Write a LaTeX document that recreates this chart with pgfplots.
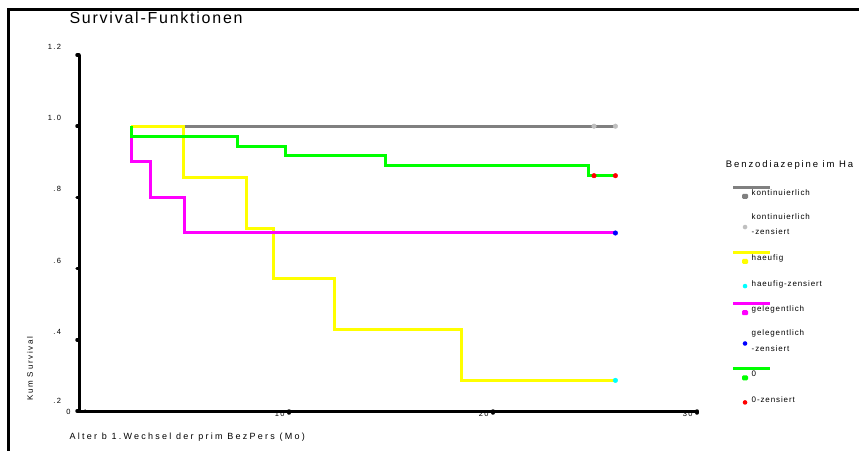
\documentclass[border=0pt]{standalone}
\usepackage{fontspec}
\setmainfont{Liberation Sans}
\newfontfamily\titlefont[LetterSpace=11]{Liberation Sans}
\newfontfamily\tickfont[LetterSpace=18]{Liberation Sans}
\newfontfamily\labfont[LetterSpace=22]{Liberation Sans}
\newfontfamily\xlabfont[LetterSpace=25]{Liberation Sans}
\newfontfamily\legfont[LetterSpace=11]{Liberation Sans}
\newfontfamily\legtfont[LetterSpace=20]{Liberation Sans}
\usepackage{pgfplots}
\pgfplotsset{compat=1.18}
\definecolor{kgray}{RGB}{128,128,128}
\definecolor{kgrayc}{RGB}{192,192,192}
\definecolor{kyellow}{RGB}{255,255,0}
\definecolor{kcyan}{RGB}{0,255,255}
\definecolor{kmag}{RGB}{255,0,255}
\definecolor{kblue}{RGB}{0,0,255}
\definecolor{kgreen}{RGB}{0,255,0}
\definecolor{kred}{RGB}{255,0,0}
\newcommand{\lineleg}[1]{\addlegendimage{legend image code/.code={%
   \path[draw=none, fill=none] (0pt,-6pt) rectangle (16pt,8pt);
   \draw[#1, overlay, line width=2.8pt] (0pt,6pt) -- (37pt,6pt);
   \fill[#1, draw=none, rounded corners=1.2pt] (9pt,-5.5pt) rectangle (15pt,-0.5pt);}}}
\newcommand{\censleg}[1]{\addlegendimage{legend image code/.code={%
   \path[draw=none, fill=none] (0pt,-6pt) rectangle (16pt,8pt);
   \fill[#1, draw=none] (12pt,-2pt) circle (2.3pt);}}}
\begin{document}
\begin{tikzpicture}[x=1pt,y=1pt]
\useasboundingbox (0,0) rectangle (859,450);
\fill[white] (0,0) rectangle (859,450);
\draw[line width=3pt] (8,-2) -- (8,440) -- (861,440);
\begin{axis}[
  at={(79pt,39pt)}, anchor=south west,
  scale only axis, width=618pt, height=356pt,
  xmin=-0.3, xmax=30, ymin=0.2, ymax=1.2,
  clip=false,
  axis lines=left,
  axis line style={-, line width=3pt, black},
  tick align=outside,
  major tick length=2pt,
  tick style={line width=3.5pt, line cap=round, black},
  xtick={10,20,30}, xticklabels={10,20,30},
  extra x ticks={0}, extra x tick labels={0},
  extra x tick style={major tick length=0pt, xticklabel style={xshift=-10pt}},
  ytick={0.2,0.4,0.6,0.8,1.0,1.2},
  yticklabels={\raisebox{4pt}{.2},.4,.6,.8,1.0,1.2},
  ticklabel style={font=\tickfont\fontsize{7.5}{9}\selectfont},
  yticklabel style={anchor=east, xshift=-12.5pt, yshift=8pt},
  xticklabel style={anchor=north east, xshift=-1pt, yshift=5.5pt},
  title={Survival-Funktionen},
  title style={at={(axis description cs:-0.021,1.087)}, anchor=west, font=\titlefont\fontsize{16}{19}\selectfont},
  xlabel={Alter b 1.Wechsel der prim BezPers (Mo)},
  xlabel style={at={(axis description cs:-0.021,-0.073)}, anchor=west, font=\xlabfont\fontsize{9}{11}\selectfont},
  ylabel={Kum Survival},
  ylabel style={at={(axis description cs:-0.0793,0.119)}, anchor=center, font=\labfont\fontsize{8}{10}\selectfont},
  legend style={at={(axis description cs:1.0583,0.634)}, anchor=north west, draw=none, fill=none,
    inner sep=0pt, outer sep=0pt, row sep=11.3pt, column sep=0pt,
    font=\legfont\fontsize{8}{15.5}\selectfont, nodes={align=left, inner sep=2.7pt}},
  legend cell align=left,
]
\addplot[const plot, color=kgray, line width=3pt, forget plot] coordinates {(2.25,1.0) (26.0,1.0)};
\addplot[const plot, color=kyellow, line width=3pt, forget plot] coordinates {(2.25,1.0) (4.82,0.857) (7.93,0.714) (9.26,0.571) (12.25,0.429) (18.43,0.286) (26.0,0.286)};
\addplot[const plot, color=kmag, line width=3pt, forget plot] coordinates {(2.25,1.0) (2.25,0.9) (3.19,0.8) (4.85,0.7) (26.0,0.7)};
\addplot[const plot, color=kgreen, line width=3pt, forget plot] coordinates {(2.25,1.0) (2.25,0.972) (7.48,0.944) (9.8,0.917) (14.74,0.889) (24.7,0.861) (26.0,0.861)};
\addplot[only marks, mark=*, mark size=2.3pt, color=kgrayc, forget plot] coordinates {(24.95,1.0) (26.0,1.0)};
\addplot[only marks, mark=*, mark size=2.3pt, color=kcyan, forget plot] coordinates {(26.0,0.286)};
\addplot[only marks, mark=*, mark size=2.3pt, color=kblue, forget plot] coordinates {(26.0,0.7)};
\addplot[only marks, mark=*, mark size=2.3pt, color=kred, forget plot] coordinates {(24.95,0.861) (26.0,0.861)};
\lineleg{kgray}\addlegendentry{kontinuierlich}
\censleg{kgrayc}\addlegendentry{kontinuierlich\\-zensiert}
\lineleg{kyellow}\addlegendentry{haeufig}
\censleg{kcyan}\addlegendentry{haeufig-zensiert}
\lineleg{kmag}\addlegendentry{gelegentlich}
\censleg{kblue}\addlegendentry{gelegentlich\\-zensiert}
\lineleg{kgreen}\addlegendentry{0}
\censleg{kred}\addlegendentry{0-zensiert}
\end{axis}
\node[anchor=west, inner sep=0pt, font=\legtfont\fontsize{9.5}{11}\selectfont] at (725.7,285) {Benzodiazepine im Ha};
\end{tikzpicture}
\end{document}
